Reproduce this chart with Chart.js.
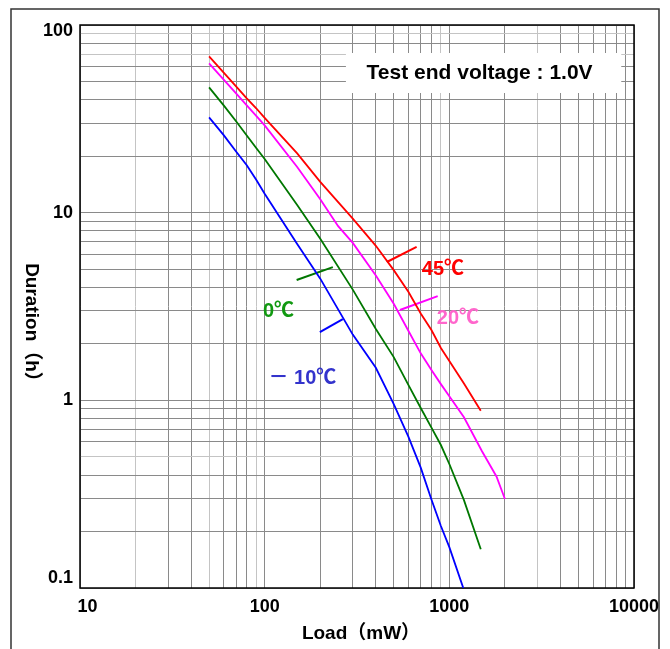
<!DOCTYPE html>
<html>
<head>
<meta charset="utf-8">
<script src="https://cdn.jsdelivr.net/npm/chart.js@4.4.1/dist/chart.umd.min.js"></script>
<style>
  html, body { margin: 0; padding: 0; background: #ffffff; }
  #wrap { width: 670px; height: 649px; position: relative; }
</style>
</head>
<body>
<div id="wrap"><canvas id="c" width="670" height="649"></canvas></div>
<script>
// ---- data (Load in mW, Duration in h) ----
const load45 = [50, 60, 70, 80, 90, 100, 150, 200, 300, 400, 500, 600, 700, 800, 900, 1000, 1200, 1480];
const dur45  = [68, 55.7, 47.1, 40.7, 36, 32, 20.7, 14.6, 9.3, 6.66, 4.94, 3.79, 2.9, 2.37, 1.9, 1.62, 1.23, 0.88];

const load20 = [50, 60, 70, 80, 90, 100, 150, 200, 250, 300, 400, 500, 600, 700, 800, 900, 1000, 1200, 1500, 1800, 2000];
const dur20  = [62.4, 51.1, 43.2, 37.3, 32.8, 29.2, 17.5, 11.8, 8.47, 6.9, 4.62, 3.27, 2.35, 1.78, 1.45, 1.22, 1.05, 0.813, 0.537, 0.393, 0.298];

const load0  = [50, 60, 70, 80, 90, 100, 150, 200, 300, 400, 500, 600, 700, 800, 900, 1000, 1200, 1480];
const dur0   = [46.5, 37.3, 30.7, 25.8, 22.1, 19.3, 11.0, 7.26, 3.89, 2.40, 1.70, 1.21, 0.91, 0.715, 0.578, 0.458, 0.294, 0.161];

const loadM10 = [50, 60, 70, 80, 90, 100, 150, 200, 300, 400, 500, 600, 700, 800, 900, 1000, 1190];
const durM10  = [32.2, 25.9, 21.2, 17.9, 14.96, 12.6, 6.8, 4.45, 2.24, 1.49, 0.955, 0.641, 0.438, 0.296, 0.214, 0.165, 0.1];

// leader lines for the curve labels (data coordinates)
const leader45x = [459, 665],  leader45y = [5.46, 6.58];
const leader20x = [540, 865],  leader20y = [3.03, 3.59];
const leader0x  = [149, 234],  leader0y  = [4.38, 5.13];
const leaderM10x = [199, 265], leaderM10y = [2.31, 2.71];

// curve labels: text, anchor in data coordinates
const seriesLabels = ['45℃', '20℃', '0℃', '－ 10℃'];
const labelX = [923, 1113, 118.8, 160];
const labelY = [4.95, 2.74, 2.99, 1.315];
const labelColors = ['#ff0000', '#ff66cc', '#119911', '#3333cc'];

const xTickLabels = ['10', '100', '1000', '10000'];
const yTickLabels = ['0.1', '1', '10', '100'];
const noteText = 'Test end voltage : 1.0V';
const xTitle = 'Load（mW）';
const yTitle = 'Duration（h）';

// ---- helpers ----
function pts(xs, ys) { return xs.map((x, i) => ({ x: x, y: ys[i] })); }
function logTicks(min, max) {
  const out = [];
  for (let e = Math.round(Math.log10(min)); e <= Math.round(Math.log10(max)); e++) {
    for (let m = 1; m <= 9; m++) {
      const v = Number((m * Math.pow(10, e)).toPrecision(4));
      if (v >= min - 1e-12 && v <= max + 1e-12) out.push(v);
    }
  }
  return out;
}
function isPow10(v) { const l = Math.log10(v); return Math.abs(l - Math.round(l)) < 1e-9; }
const lightX = [20, 50, 90, 900, 3000];
const lightY = [70, 90, 0.5];
function near(v, arr) { return arr.some(a => Math.abs(v - a) / a < 1e-6); }

const FONT = '"Liberation Sans", "Noto Sans CJK JP", Arial, sans-serif';

const lineDS = (data, color, w) => ({
  data: data, borderColor: color, borderWidth: w, pointRadius: 0,
  fill: false, tension: 0, showLine: true
});

const framePlugin = {
  id: 'frame',
  beforeDraw(chart) {
    const ctx = chart.ctx;
    ctx.save();
    ctx.fillStyle = '#ffffff';
    ctx.fillRect(0, 0, chart.width, chart.height);
    ctx.strokeStyle = '#333333';
    ctx.lineWidth = 1.5;
    ctx.beginPath();
    ctx.moveTo(11, chart.height + 2);
    ctx.lineTo(11, 9);
    ctx.lineTo(659, 9);
    ctx.lineTo(659, chart.height + 2);
    ctx.stroke();
    ctx.restore();
  },
  beforeDatasetsDraw(chart) {
    const ctx = chart.ctx, a = chart.chartArea;
    ctx.save();
    // note box (white, covering grid)
    const bx = a.left + (a.right - a.left) * 0.480;
    const bw = (a.right - a.left) * 0.497;
    const by = a.top + 28, bh = 40;
    ctx.fillStyle = '#ffffff';
    ctx.fillRect(bx, by, bw, bh);
    ctx.fillStyle = '#000000';
    ctx.font = 'bold 21px ' + FONT;
    ctx.textAlign = 'center';
    ctx.textBaseline = 'middle';
    ctx.fillText(noteText, bx + bw / 2 - 4, by + bh / 2);
    // plot border
    ctx.strokeStyle = '#000000';
    ctx.lineWidth = 1.5;
    ctx.strokeRect(a.left, a.top, a.right - a.left, a.bottom - a.top);
    ctx.restore();
  },
  afterDatasetsDraw(chart) {
    const ctx = chart.ctx, a = chart.chartArea;
    const xs = chart.scales.x, ys = chart.scales.y;
    ctx.save();
    ctx.font = 'bold 20px ' + FONT;
    ctx.textAlign = 'center';
    ctx.textBaseline = 'middle';
    seriesLabels.forEach((t, i) => {
      ctx.fillStyle = labelColors[i];
      ctx.fillText(t, xs.getPixelForValue(labelX[i]), ys.getPixelForValue(labelY[i]));
    });
    // axis titles
    ctx.fillStyle = '#000000';
    ctx.font = 'bold 19px ' + FONT;
    ctx.fillText(xTitle, (a.left + a.right) / 2 + 4, 634);
    ctx.translate(31, 327);
    ctx.rotate(Math.PI / 2);
    ctx.fillText(yTitle, 0, 0);
    ctx.restore();
  }
};

new Chart(document.getElementById('c'), {
  type: 'line',
  data: {
    datasets: [
      lineDS(pts(load45, dur45), '#ff0000', 1.8),
      lineDS(pts(load20, dur20), '#ff00ff', 1.8),
      lineDS(pts(load0, dur0), '#007700', 1.8),
      lineDS(pts(loadM10, durM10), '#0000ff', 1.8),
      lineDS(pts(leader45x, leader45y), '#ff0000', 2),
      lineDS(pts(leader20x, leader20y), '#ff00ff', 2),
      lineDS(pts(leader0x, leader0y), '#007700', 2),
      lineDS(pts(leaderM10x, leaderM10y), '#0000ff', 2)
    ]
  },
  options: {
    responsive: false,
    animation: false,
    devicePixelRatio: 1,
    layout: { padding: { left: 0, right: 36, top: 25, bottom: 0 } },
    plugins: { legend: { display: false }, tooltip: { enabled: false } },
    scales: {
      x: {
        type: 'logarithmic', min: 10, max: 10000,
        afterFit(s) { s.height = 61; },
        afterBuildTicks(s) { s.ticks = logTicks(10, 10000).map(v => ({ value: v })); },
        grid: {
          drawTicks: false,
          color: c => near(c.tick.value, lightX) ? '#c4c4c4' : '#8a8a8a',
          lineWidth: 1
        },
        border: { display: false },
        ticks: {
          autoSkip: false, maxRotation: 0, padding: 8,
          color: '#000000',
          font: { family: FONT, size: 18, weight: 'bold' },
          callback(v) {
            if (!isPow10(v)) return '';
            const i = Math.round(Math.log10(v)) - 1;
            return i === 0 ? '   ' + xTickLabels[i] : xTickLabels[i];
          }
        }
      },
      y: {
        type: 'logarithmic', min: 0.1, max: 100,
        afterFit(s) { s.width = 80; },
        afterBuildTicks(s) { s.ticks = logTicks(0.1, 100).map(v => ({ value: v })); },
        grid: {
          drawTicks: false,
          color: c => near(c.tick.value, lightY) ? '#c4c4c4' : '#8a8a8a',
          lineWidth: 1
        },
        border: { display: false },
        ticks: {
          autoSkip: false, padding: 7,
          color: '#000000',
          font: c => ({ family: FONT, size: 18, weight: 'bold',
                        lineHeight: (c.tick && Math.abs(c.tick.value - 100) < 1e-9) ? 0.7 : 1.15 }),
          callback(v) {
            if (!isPow10(v)) return '';
            const i = Math.round(Math.log10(v)) + 1;
            if (i === 0) return [yTickLabels[i], ''];
            if (i === 3) return ['', yTickLabels[i]];
            return yTickLabels[i];
          }
        }
      }
    }
  },
  plugins: [framePlugin]
});
</script>
</body>
</html>
